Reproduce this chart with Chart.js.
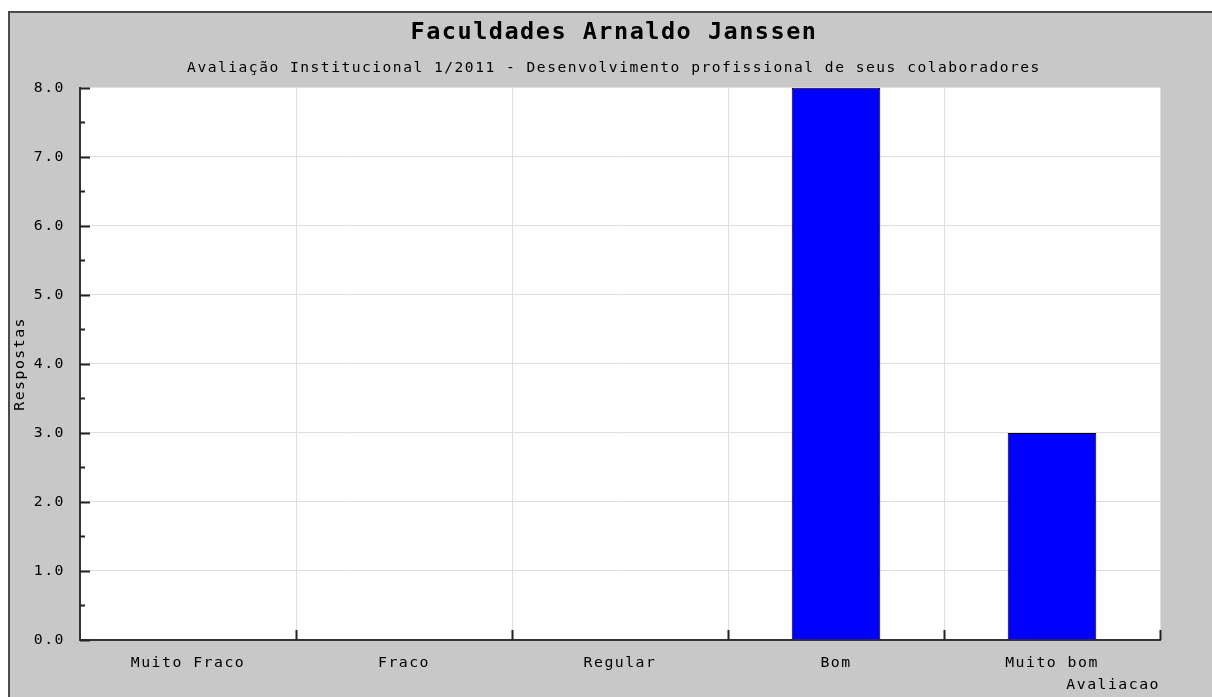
<!DOCTYPE html>
<html>
<head>
<meta charset="utf-8">
<script src="https://cdn.jsdelivr.net/npm/chart.js@4.4.0/dist/chart.umd.min.js"></script>
<style>
  html, body { margin: 0; padding: 0; background: #fff; }
  #wrap { position: relative; width: 1212px; height: 697px; overflow: hidden; }
  #frame {
    position: absolute; left: 8px; top: 11px; right: -4px; bottom: -4px;
    background: #c8c8c8; border: 2px solid #4a4a4a;
  }
  #grafico { position: absolute; left: 0; top: 0; }
</style>
</head>
<body>
<div id="wrap">
  <div id="frame"></div>
  <canvas id="grafico" width="1212" height="697"></canvas>
</div>
<script>
// dados
const categorias = ['Muito Fraco', 'Fraco', 'Regular', 'Bom', 'Muito bom'];
const respostas = [0, 0, 0, 8, 3];
const yTicks = [0, 1, 2, 3, 4, 5, 6, 7, 8];

const titulo = 'Faculdades Arnaldo Janssen';
const subtitulo = 'Avaliação Institucional 1/2011 - Desenvolvimento profissional de seus colaboradores';

const fonte = '"DejaVu Sans Mono", "Liberation Mono", monospace';

// espacamento entre letras (a fonte original e bem larga)
const espacamento = {
  id: 'espacamento',
  beforeUpdate(c) { c.ctx.letterSpacing = '1.5px'; },
  beforeLayout(c) { c.ctx.letterSpacing = '1.5px'; },
  beforeDraw(c) { c.ctx.letterSpacing = '1.5px'; }
};

// fundo branco da area de plotagem
const fundoPlot = {
  id: 'fundoPlot',
  beforeDraw(c) {
    const a = c.chartArea, ctx = c.ctx;
    ctx.save();
    ctx.fillStyle = '#ffffff';
    ctx.fillRect(a.left, a.top, a.right - a.left, a.bottom - a.top);
    ctx.restore();
  }
};

// marcas dos eixos voltadas para dentro
const marcas = {
  id: 'marcas',
  afterDatasetsDraw(c) {
    const ctx = c.ctx, y = c.scales.y, x = c.scales.x, a = c.chartArea;
    ctx.save();
    ctx.strokeStyle = '#222';
    ctx.lineWidth = 2;
    ctx.beginPath();
    yTicks.forEach((v, i) => {
      const py = Math.round(y.getPixelForValue(v)) + 0.5;
      ctx.moveTo(a.left, py);
      ctx.lineTo(a.left + 10, py);
      if (i < yTicks.length - 1) {
        const pm = Math.round(y.getPixelForValue(v + 0.5)) + 0.5;
        ctx.moveTo(a.left, pm);
        ctx.lineTo(a.left + 5, pm);
      }
    });
    ctx.stroke();
    ctx.beginPath();
    categorias.forEach((cat, i) => {
      const px = Math.round((x.getPixelForValue(i) + (i < categorias.length - 1 ? x.getPixelForValue(i + 1) : 2 * x.getPixelForValue(i) - x.getPixelForValue(i - 1))) / 2) + 0.5;
      ctx.moveTo(px, a.bottom);
      ctx.lineTo(px, a.bottom - 10);
    });
    ctx.stroke();
    ctx.restore();
  }
};

new Chart(document.getElementById('grafico'), {
  type: 'bar',
  data: {
    labels: categorias,
    datasets: [{
      label: 'Respostas',
      data: respostas,
      backgroundColor: '#0000ff',
      borderColor: '#000000',
      borderWidth: 1,
      barPercentage: 0.41,
      categoryPercentage: 1.0
    }]
  },
  options: {
    responsive: false,
    animation: false,
    layout: { padding: { left: 16, right: 0, top: 0, bottom: 0 } },
    plugins: {
      legend: { display: false },
      tooltip: { enabled: false },
      title: {
        display: true,
        text: titulo,
        color: '#000',
        font: { family: fonte, size: 23.5, weight: 'bold' },
        padding: { top: 19, bottom: 12 }
      },
      subtitle: {
        display: true,
        text: subtitulo,
        color: '#000',
        font: { family: fonte, size: 14.6 },
        padding: { top: 0, bottom: 11 }
      }
    },
    scales: {
      x: {
        grid: { color: '#dedede', drawTicks: false, offset: true },
        border: { color: '#333', width: 2 },
        ticks: { color: '#000', font: { family: fonte, size: 14.8 }, padding: 14, maxRotation: 0 },
        title: {
          display: true, text: 'Avaliacao', align: 'end', color: '#000',
          font: { family: fonte, size: 14.8 }, padding: { top: 0, bottom: 3 }
        },
        afterFit(s) { s.height = 57; }
      },
      y: {
        min: 0, max: 8,
        grid: { color: '#dedede', drawTicks: false },
        border: { color: '#333', width: 2 },
        ticks: {
          stepSize: 1, color: '#000', padding: 15,
          font: { family: fonte, size: 14.8 },
          callback: v => Number(v).toFixed(1)
        },
        title: {
          display: true, text: 'Respostas', color: '#000',
          font: { family: fonte, size: 14.8 }, padding: { top: -5, bottom: 0 }
        },
        afterFit(s) { s.width = 64; }
      },
      // eixo vazio so para reservar a margem direita
      yDireita: {
        type: 'linear',
        position: 'right',
        min: 0, max: 8,
        grid: { display: false },
        border: { display: false },
        ticks: { display: false },
        afterFit(s) { s.width = 52; }
      }
    }
  },
  plugins: [espacamento, fundoPlot, marcas]
});
</script>
</body>
</html>
